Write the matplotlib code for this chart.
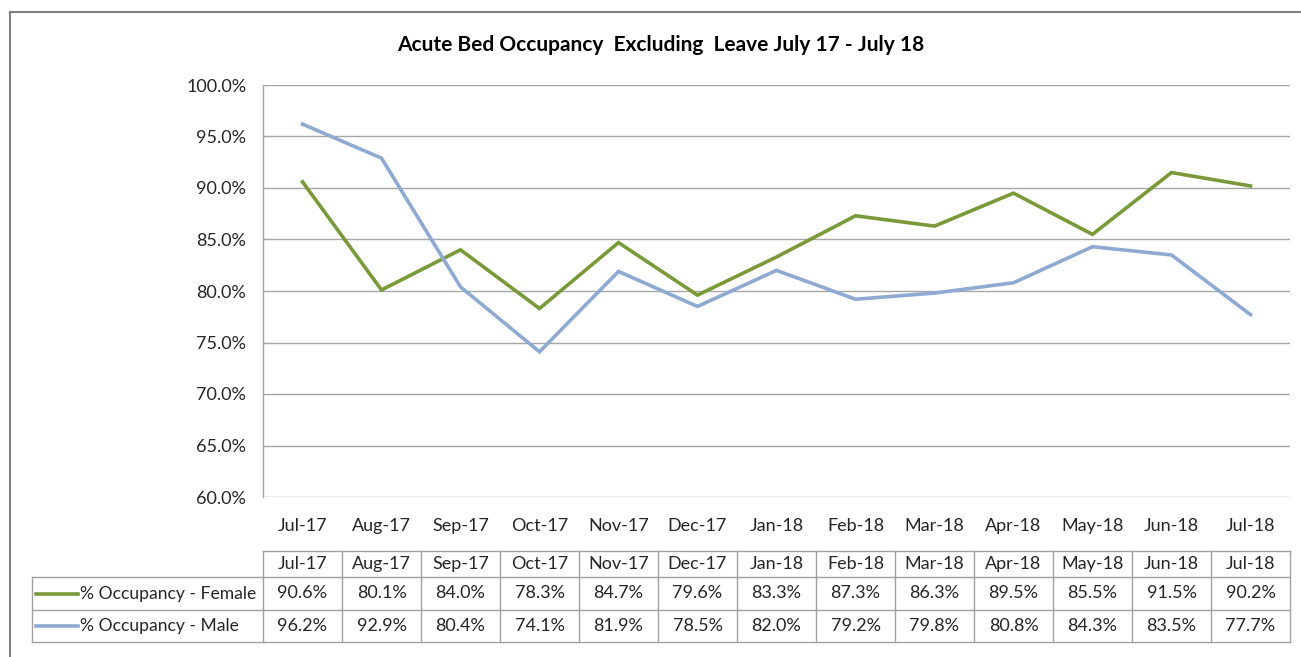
import matplotlib
matplotlib.use("Agg")
import matplotlib.pyplot as plt
from matplotlib.lines import Line2D
import matplotlib.transforms as mtransforms

months = ["Jul-17", "Aug-17", "Sep-17", "Oct-17", "Nov-17", "Dec-17", "Jan-18",
          "Feb-18", "Mar-18", "Apr-18", "May-18", "Jun-18", "Jul-18"]
female = [90.6, 80.1, 84.0, 78.3, 84.7, 79.6, 83.3, 87.3, 86.3, 89.5, 85.5, 91.5, 90.2]
male = [96.2, 92.9, 80.4, 74.1, 81.9, 78.5, 82.0, 79.2, 79.8, 80.8, 84.3, 83.5, 77.7]
series_names = ["% Occupancy - Female", "% Occupancy - Male"]
yticks = [60, 65, 70, 75, 80, 85, 90, 95, 100]
title = "Acute Bed Occupancy  Excluding  Leave July 17 - July 18"

GREEN = "#7A9A3A"
BLUE = "#8FAAD2"
GRID = "#A6A6A6"
FONT = "Lato"
FS = 13

plt.rcParams['font.family'] = [FONT, 'DejaVu Sans']

W, H = 1301, 657
fig = plt.figure(figsize=(W / 100, H / 100), dpi=100)

def fx(px):
    return px / W

def fy(py):
    return 1 - py / H

# outer border
fig.add_artist(Line2D([fx(10), fx(10)], [fy(12), 0], color="#808080", lw=1.5,
                      transform=fig.transFigure))
fig.add_artist(Line2D([fx(10), 1], [fy(12), fy(12)], color="#808080", lw=1.5,
                      transform=fig.transFigure))

left, right, top, bottom = 263, 1290, 85, 497
ax = fig.add_axes([fx(left), fy(bottom), fx(right) - fx(left), fy(top) - fy(bottom)])

x = list(range(len(months)))
ax.plot(x, female, color=GREEN, lw=2.6, solid_joinstyle="miter")
ax.plot(x, male, color=BLUE, lw=2.6, solid_joinstyle="miter")

ax.set_xlim(-0.5, len(months) - 0.5)
ax.set_ylim(60, 100)
ax.set_yticks(yticks)
ax.set_yticklabels([f"{v:.1f}%" for v in yticks], fontsize=FS, color="#262626")
ax.set_xticks(x)
ax.set_xticklabels(months, fontsize=FS, color="#262626")
ax.tick_params(axis="both", length=0)
ax.tick_params(axis="y", pad=12)
ax.tick_params(axis="x", pad=15)
ax.grid(axis="y", color=GRID, lw=1)
ax.set_axisbelow(True)
for s in ["top", "right", "bottom"]:
    ax.spines[s].set_visible(False)
ax.spines["left"].set_color(GRID)
ax.spines["left"].set_linewidth(1)

fig.text(fx(661), fy(45), title, ha="center", va="center",
         fontsize=15, fontweight="bold", color="#000000")

# data table
trans = mtransforms.blended_transform_factory(ax.transData, fig.transFigure)
row_h = [551, 577, 610, 642]
n = len(months)
lc = "#A0A0A0"
for i, yy in enumerate(row_h):
    fig.add_artist(Line2D([-0.5, n - 0.5], [fy(yy), fy(yy)], color=lc, lw=1,
                          transform=trans))
for yy in row_h[1:]:
    fig.add_artist(Line2D([fx(32), fx(left)], [fy(yy), fy(yy)], color=lc, lw=1,
                          transform=fig.transFigure))
fig.add_artist(Line2D([fx(32), fx(32)], [fy(row_h[1]), fy(row_h[3])], color=lc, lw=1,
                      transform=fig.transFigure))
for i in range(n + 1):
    fig.add_artist(Line2D([i - 0.5, i - 0.5], [fy(row_h[0]), fy(row_h[3])], color=lc,
                          lw=1, transform=trans))

for i, m in enumerate(months):
    fig.text(i, fy((row_h[0] + row_h[1]) / 2), m, transform=trans, ha="center",
             va="center", fontsize=FS, color="#262626")
    fig.text(i, fy((row_h[1] + row_h[2]) / 2), f"{female[i]:.1f}%", transform=trans,
             ha="center", va="center", fontsize=FS, color="#262626")
    fig.text(i, fy((row_h[2] + row_h[3]) / 2), f"{male[i]:.1f}%", transform=trans,
             ha="center", va="center", fontsize=FS, color="#262626")

for k, (name, col) in enumerate(zip(series_names, [GREEN, BLUE])):
    yc = fy((row_h[k + 1] + row_h[k + 2]) / 2)
    fig.add_artist(Line2D([fx(36), fx(78)], [yc, yc], color=col, lw=2.6,
                          transform=fig.transFigure))
    fig.text(fx(80), yc, name, ha="left", va="center", fontsize=12.6, color="#262626")

fig.savefig("out.png", dpi=100)
